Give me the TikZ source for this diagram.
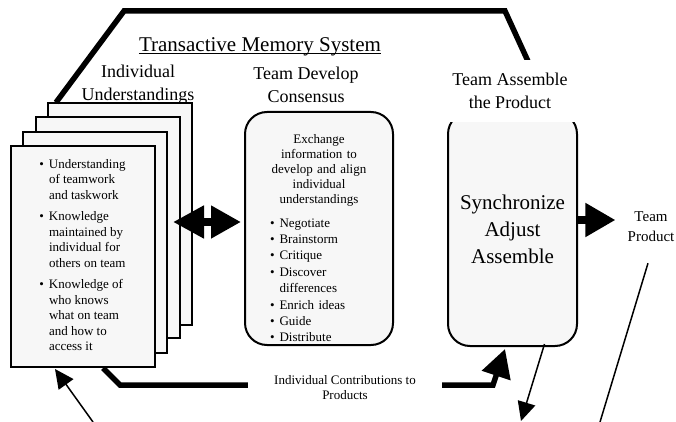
\documentclass[tikz,border=0pt]{standalone}
\usepackage{fontspec}
\setmainfont{Liberation Serif}
\usepackage{tikz}
\usetikzlibrary{arrows.meta}
\newcommand{\fsize}[2]{\fontsize{#1pt}{#2pt}\selectfont}
\newcommand{\drawPage}[3]{% name, center: x,y
  \node[page] (#1) at (#2,#3) {};
}

\begin{document}
\begin{tikzpicture}[x=1pt,y=-1pt,
  page/.style={draw,line width=2pt,fill=gray!6,minimum width=144pt,minimum height=221pt,inner sep=0pt},
  roundbox/.style={draw,line width=2pt,fill=gray!6,rounded corners=22pt,inner sep=0pt},
  heading/.style={align=center,font=\fsize{18}{23}},
  whitelabel/.style={fill=white,align=center},
  heavy/.style={line width=5.5pt},
  bighead/.style={-{Triangle[length=30pt,width=32pt]}},
  thinarrow/.style={line width=1.5pt,-{Triangle[length=19pt,width=18pt]}}]
% Frame
\useasboundingbox (0,0) rectangle (676,422);

% Stack of pages, back to front
\drawPage{page4}{120}{214}
\drawPage{page3}{107.5}{227.5}
\drawPage{page2}{95}{242.5}
\node[page,font=\fsize{13}{15.5}] (page1) at (82.5,256.5) {%
  \begin{tabular}{@{}l@{\hspace{5pt}}l@{}}
  \textbullet & Understanding\\ & of teamwork\\ & and taskwork\\[6pt]
  \textbullet & Knowledge\\ & maintained by\\ & individual for\\ & others on team\\[6pt]
  \textbullet & Knowledge of\\ & who knows\\ & what on team\\ & and how to\\ & access it
  \end{tabular}};

% Consensus box
\node[roundbox,minimum width=148pt,minimum height=233pt] (consensus) at (319,228.5) {};
\node[font=\fsize{13}{15},text width=98pt,inner sep=0pt,anchor=north] (exchange) at (319,134) {%
  {\centering Exchange\\information to\\develop and align\\individual\\understandings\par}
  \vspace{8.5pt}
  {\fsize{13}{16.4}\begin{tabular}{@{}l@{\hspace{5pt}}l@{}}
  \textbullet & Negotiate\\ \textbullet & Brainstorm\\ \textbullet & Critique\\
  \textbullet & Discover\\ & differences\\ \textbullet & Enrich ideas\\
  \textbullet & Guide\\ \textbullet & Distribute
  \end{tabular}}};

% Assemble box
\node[roundbox,minimum width=129pt,minimum height=234pt,font=\fsize{21}{27},align=center] (assemble) at (512.5,229) {Synchronize\\Adjust\\Assemble};

% Headings
\node[font=\fsize{21}{25},inner sep=0pt,anchor=base] (tms) at (260,52) {Transactive Memory System};
\draw[line width=1pt] ([yshift=-2pt]tms.base west) -- ([yshift=-2pt]tms.base east);
\node[heading] (individual) at (138,85) {Individual\\Understandings};
\node[heading] (develop) at (306,85) {Team Develop\\Consensus};
\node[font=\fsize{15}{20},align=center,inner sep=0pt] (teamproduct) at (651,227) {Team\\Product};

% Top band
\coordinate (tsend) at (532,70);
\draw[heavy] ([xshift=9pt]page4.north west) -- (124,11) -- (505,11) -- (tsend);

% Bottom band
\draw[heavy,-{Triangle[length=28pt,width=29pt]}] ([xshift=20.5pt]page1.south) -- (120,385) -- (493,385) -- ([xshift=-7.5pt,yshift=-2pt]assemble.south);

% Exchange and output arrows
\draw[line width=8pt,{Triangle[length=31pt,width=31pt]}-{Triangle[length=30pt,width=31pt]}] ([xshift=-7.5pt,yshift=5.5pt]page3.east) -- ([xshift=-3pt,yshift=6.5pt]consensus.west);
\draw[line width=8pt,bighead] ([yshift=9pt]assemble.east) -- ([xshift=-12pt,yshift=7pt]teamproduct.west);

% Thin lines leaving the frame
\coordinate (fromteam) at (93,422);
\coordinate (toteam) at (521,421);
\coordinate (prodout) at (600,422);
\draw[thinarrow] (fromteam) -- ([xshift=-27.5pt,yshift=-1pt]page1.south);
\draw[thinarrow] ([xshift=32pt,yshift=3pt]assemble.south) -- (toteam);
\draw[line width=1.5pt] ([xshift=-3pt,yshift=-21pt]teamproduct.south) -- (prodout);

% White labels on top
\node[heading,whitelabel,minimum width=146pt,minimum height=62pt] (assembletitle) at (510,91) {Team Assemble\\the Product};
\node[whitelabel,font=\fsize{13}{15},minimum width=194pt,inner ysep=2pt] (contrib) at (345,388) {Individual Contributions to\\Products};
\end{tikzpicture}
\end{document}
